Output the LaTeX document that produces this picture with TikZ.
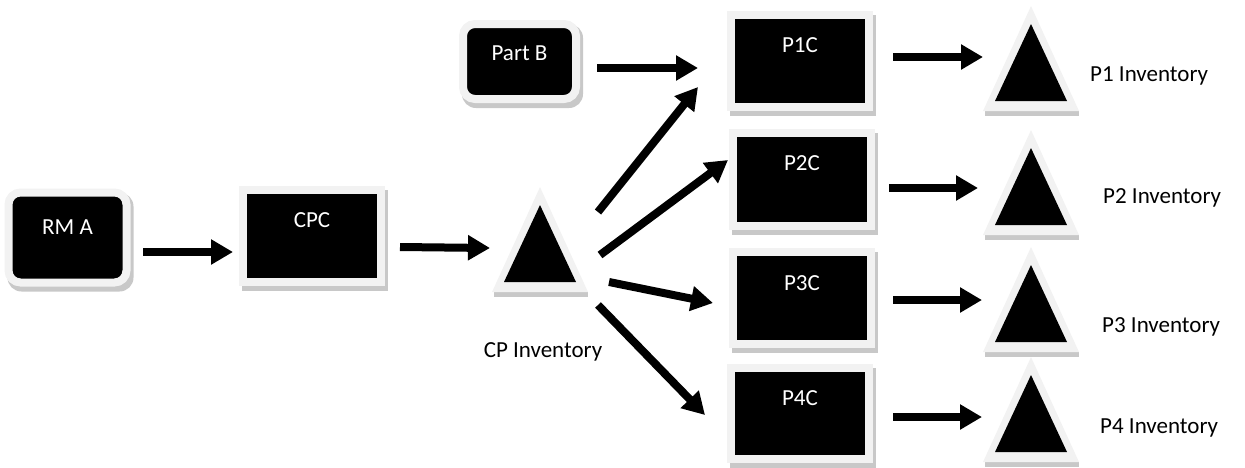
\documentclass[tikz,border=0pt]{standalone}
\usepackage{fontspec}
\setmainfont{Carlito}
\usetikzlibrary{arrows.meta}
\pgfdeclarelayer{bg}
\pgfsetlayers{bg,main}
\definecolor{frm}{RGB}{242,242,242}
\definecolor{shd}{RGB}{200,200,200}
\tikzset{
  pbox/.style={rectangle, fill=black, draw=frm, line width=8pt, inner sep=0pt, outer sep=0pt},
  rbox/.style={pbox, rounded corners=12pt},
  boxtxt/.style={text=white, anchor=base, inner sep=0pt, font=\fontsize{23}{28}\selectfont},
  invtxt/.style={text=black, inner sep=0pt, font=\fontsize{23}{28}\selectfont},
  tri/.style={rectangle, inner sep=0pt, outer sep=0pt, minimum width=96pt, minimum height=110pt,
    path picture={
      \fill[shd] ([shift={(2,0)}]path picture bounding box.south west) rectangle ([shift={(0,5)}]path picture bounding box.south east);
      \fill[frm] ([yshift=5]path picture bounding box.south west) -- ([yshift=5]path picture bounding box.south east) -- (path picture bounding box.north) -- cycle;
      \fill[black] ([shift={(12,15)}]path picture bounding box.south west) -- ([shift={(-12,15)}]path picture bounding box.south east) -- ([yshift=-18]path picture bounding box.north) -- cycle;
    }},
  arr/.style={line width=8pt, -{Triangle[length=22pt,width=24pt]}}
}
\begin{document}
\begin{tikzpicture}[x=1pt,y=1pt]
\useasboundingbox (0,0) rectangle (1245,-467);

% boxes
\node[rbox, minimum width=118pt, minimum height=90pt] (rma) at (67.5,-237.5) {};
\node[pbox, minimum width=138pt, minimum height=92pt] (cpc) at (312,-236) {};
\node[rbox, minimum width=113pt, minimum height=75pt] (partb) at (519.5,-61.5) {};
\node[pbox, minimum width=138pt, minimum height=92pt] (p1c) at (800,-61) {};
\node[pbox, minimum width=138pt, minimum height=93pt] (p2c) at (802,-179.5) {};
\node[pbox, minimum width=138pt, minimum height=92pt] (p3c) at (802,-298) {};
\node[pbox, minimum width=138pt, minimum height=91pt] (p4c) at (800,-413.5) {};

% box texts
\node[boxtxt] (rmat) at ([yshift=-41.5]rma.north) {RM A};
\node[boxtxt] (cpct) at ([yshift=-37]cpc.north) {CPC};
\node[boxtxt] (partbt) at ([yshift=-36]partb.north) {Part B};
\node[boxtxt] (p1ct) at ([yshift=-37]p1c.north) {P1C};
\node[boxtxt] (p2ct) at ([yshift=-37]p2c.north) {P2C};
\node[boxtxt] (p3ct) at ([yshift=-38]p3c.north) {P3C};
\node[boxtxt] (p4ct) at ([yshift=-37]p4c.north) {P4C};

% triangles
\node[tri] (cpinv) at (540,-242) {};
\node[tri] (p1inv) at (1031,-61) {};
\node[tri] (p2inv) at (1031,-185) {};
\node[tri] (p3inv) at (1031,-302) {};
\node[tri] (p4inv) at (1031,-412) {};

% inventory labels
\node[invtxt, anchor=base] (cpinvt) at (543,-357) {CP Inventory};
\node[invtxt, anchor=base west] (p1invt) at (1090,-81) {P1 Inventory};
\node[invtxt, anchor=base west] (p2invt) at (1103,-203) {P2 Inventory};
\node[invtxt, anchor=base west] (p3invt) at (1102,-332) {P3 Inventory};
\node[invtxt, anchor=base west] (p4invt) at (1100,-433) {P4 Inventory};

% shadows
\begin{pgfonlayer}{bg}
  \foreach \n in {cpc,p1c,p2c,p3c,p4c}
    \fill[shd] ([shift={(-1,-9)}]\n.south west) rectangle ([shift={(7,0)}]\n.north east);
  \foreach \n in {rma,partb}
    \fill[shd, rounded corners=14pt] ([shift={(-1,-9)}]\n.south west) rectangle ([shift={(7,0)}]\n.north east);
\end{pgfonlayer}

% arrows
\draw[arr] ([shift={(16.5,-14.5)}]rma.east) -- ([shift={(-10,-16)}]cpc.west);
\draw[arr] ([shift={(19,-11)}]cpc.east) -- ([shift={(-2,-6)}]cpinv.west);
\draw[arr] ([shift={(21,-6.5)}]partb.east) -- ([shift={(-33,-7)}]p1c.west);
\draw[arr] ([shift={(10,-25)}]cpinv.north east) -- ([shift={(-33,-26)}]p1c.west);
\draw[arr] ([shift={(12,-13)}]cpinv.east) -- ([shift={(-5,19.5)}]p2c.west);
\draw[arr] ([shift={(21,-40)}]cpinv.east) -- ([shift={(-20,-5)}]p3c.west);
\draw[arr] ([shift={(10,-8)}]cpinv.south east) -- ([shift={(-26,-1.5)}]p4c.west);
\draw[arr] ([shift={(24,4)}]p1c.east) -- ([shift={(0,4)}]p1inv.west);
\draw[arr] ([shift={(18,-8.5)}]p2c.east) -- ([shift={(-5,-3)}]p2inv.west);
\draw[arr] ([shift={(22,-2)}]p3c.east) -- ([shift={(-1,2)}]p3inv.west);
\draw[arr] ([shift={(24,-3.5)}]p4c.east) -- ([shift={(-1,-5)}]p4inv.west);
\end{tikzpicture}
\end{document}
